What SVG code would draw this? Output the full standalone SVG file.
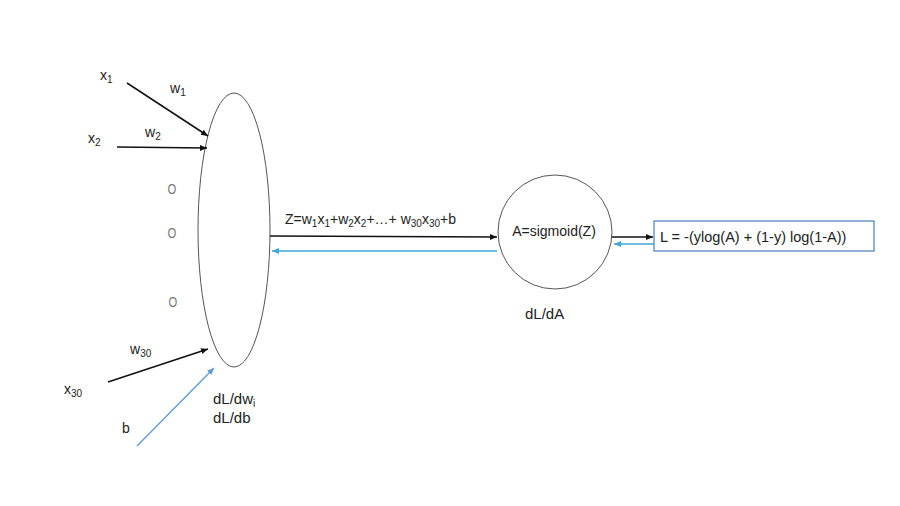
<svg xmlns="http://www.w3.org/2000/svg" width="900" height="506" viewBox="0 0 900 506">
<style>
text{font-family:"Liberation Sans",Arial,sans-serif;fill:#222;font-size:14px}
.sub{font-size:10px}
.o{fill:#777;font-size:15px}
.big{font-size:15px}
.mid{font-size:14.5px}
.blk{stroke:#111;stroke-width:1.5;fill:none}
.blu{stroke:#3fa6d8;stroke-width:1.5;fill:none}
.bb{stroke:#5b9bd5;stroke-width:1.3;fill:none}
</style>
<defs>
<marker id="ah" markerWidth="8" markerHeight="8" refX="7" refY="4" orient="auto" markerUnits="userSpaceOnUse"><path d="M0,1 L7,4 L0,7 Z" fill="#111"/></marker>
<marker id="ahb" markerWidth="8" markerHeight="8" refX="7" refY="4" orient="auto" markerUnits="userSpaceOnUse"><path d="M0,1 L7,4 L0,7 Z" fill="#3fa6d8"/></marker>
<marker id="ahbb" markerWidth="8" markerHeight="8" refX="7" refY="4" orient="auto" markerUnits="userSpaceOnUse"><path d="M0,1 L7,4 L0,7 Z" fill="#5b9bd5"/></marker>
</defs>
<rect width="900" height="506" fill="#fff"/>
<g id="neuron">
<ellipse cx="234" cy="230" rx="36" ry="137" fill="none" stroke="#555" stroke-width="1"/>
</g>
<g id="sigmoid">
<circle cx="555" cy="232" r="57" fill="none" stroke="#555" stroke-width="1"/>
<text x="554" y="236" text-anchor="middle">A=sigmoid(Z)</text>
</g>
<g id="loss">
<rect x="654" y="221" width="220" height="30" fill="#fff" stroke="#4a7ebb" stroke-width="1.2"/>
<text x="660" y="242" class="mid">L = -(ylog(A) + (1-y) log(1-A))</text>
</g>
<g id="connectors">
<line x1="127" y1="83" x2="208" y2="136" class="blk" marker-end="url(#ah)"/>
<line x1="117" y1="147" x2="207" y2="148" class="blk" marker-end="url(#ah)"/>
<line x1="108" y1="382" x2="208" y2="349" class="blk" marker-end="url(#ah)"/>
<line x1="137" y1="446" x2="214" y2="368" class="bb" marker-end="url(#ahbb)"/>
<line x1="270" y1="236" x2="497" y2="237" class="blk" marker-end="url(#ah)"/>
<line x1="497" y1="251" x2="272" y2="251" class="blu" marker-end="url(#ahb)"/>
<line x1="612" y1="237" x2="653" y2="237" class="blk" marker-end="url(#ah)"/>
<line x1="654" y1="244" x2="614" y2="244" class="blu" marker-end="url(#ahb)"/>
</g>
<g id="labels">
<text x="100" y="80">x<tspan class="sub" dy="3">1</tspan></text>
<text x="170" y="93">w<tspan class="sub" dy="3">1</tspan></text>
<text x="88" y="143">x<tspan class="sub" dy="3">2</tspan></text>
<text x="145" y="137">w<tspan class="sub" dy="3">2</tspan></text>
<text x="172" y="194" text-anchor="middle" class="o" transform="translate(172 0) scale(0.75 1) translate(-172 0)">O</text>
<text x="172" y="238" text-anchor="middle" class="o" transform="translate(172 0) scale(0.75 1) translate(-172 0)">O</text>
<text x="173" y="307" text-anchor="middle" class="o" transform="translate(173 0) scale(0.75 1) translate(-173 0)">O</text>
<text x="130" y="354">w<tspan class="sub" dy="3">30</tspan></text>
<text x="64" y="394">x<tspan class="sub" dy="3">30</tspan></text>
<text x="122" y="433">b</text>
<text x="213" y="404" class="big">dL/dw<tspan class="sub" dy="3">i</tspan></text>
<text x="213" y="423" class="big">dL/db</text>
<text x="285" y="224">Z=w<tspan class="sub" dy="3">1</tspan><tspan dy="-3">x</tspan><tspan class="sub" dy="3">1</tspan><tspan dy="-3">+w</tspan><tspan class="sub" dy="3">2</tspan><tspan dy="-3">x</tspan><tspan class="sub" dy="3">2</tspan><tspan dy="-3">+…+ w</tspan><tspan class="sub" dy="3">30</tspan><tspan dy="-3">x</tspan><tspan class="sub" dy="3">30</tspan><tspan dy="-3">+b</tspan></text>
<text x="525" y="319" class="big">dL/dA</text>
</g>
</svg>
